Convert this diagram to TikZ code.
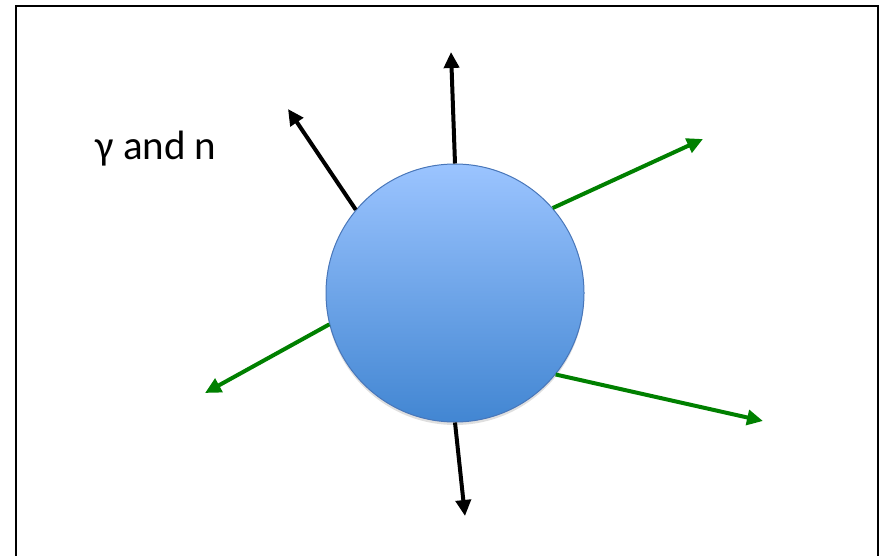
\documentclass[tikz,border=0pt]{standalone}
\usepackage{fontspec}
\setmainfont{Carlito}
\usetikzlibrary{arrows.meta, shadows}

\definecolor{nucleusTop}{RGB}{155,196,255}
\definecolor{nucleusMid}{RGB}{130,178,242}
\definecolor{nucleusBottom}{RGB}{66,134,210}
\definecolor{nucleusEdge}{RGB}{72,118,185}
\definecolor{emitGreen}{RGB}{0,128,0}

\begin{document}
\begin{tikzpicture}[x=1pt, y=-1pt, >={Triangle[length=16pt, width=15pt]},
  every node/.style={font=\fontsize{41}{48}\selectfont},
  blackray/.style={->, line width=4pt, black},
  greenray/.style={->, line width=4pt, emitGreen}]
  \useasboundingbox (0,0) rectangle (885,556);
  \draw[line width=2pt] (16,6) rectangle (878,590);
  \node[circle, inner sep=0pt, minimum size=258pt, draw=nucleusEdge, line width=1pt,
    top color=nucleusTop, middle color=nucleusMid, bottom color=nucleusBottom,
    drop shadow={opacity=0.25, shadow xshift=0pt, shadow yshift=-3pt}] (nucleus) at (455,293) {};
  \node[anchor=base] (label) at (156,160) {γ and n};
  % free ends
  \coordinate (tipUp) at (451,52);
  \coordinate (tipUpLeft) at (288,109);
  \coordinate (tipDown) at (465,516);
  \coordinate (tipUpRight) at (703,139);
  \coordinate (tipDownLeft) at (205,393);
  \coordinate (tipDownRight) at (763,421);
  \draw[blackray] (nucleus.90) -- (tipUp);
  \draw[blackray] (nucleus.140) -- (tipUpLeft);
  \draw[blackray] (nucleus.270) -- (tipDown);
  \draw[greenray] (nucleus.41) -- (tipUpRight);
  \draw[greenray] (nucleus.194) -- (tipDownLeft);
  \draw[greenray] (nucleus.321) -- (tipDownRight);
\end{tikzpicture}
\end{document}
